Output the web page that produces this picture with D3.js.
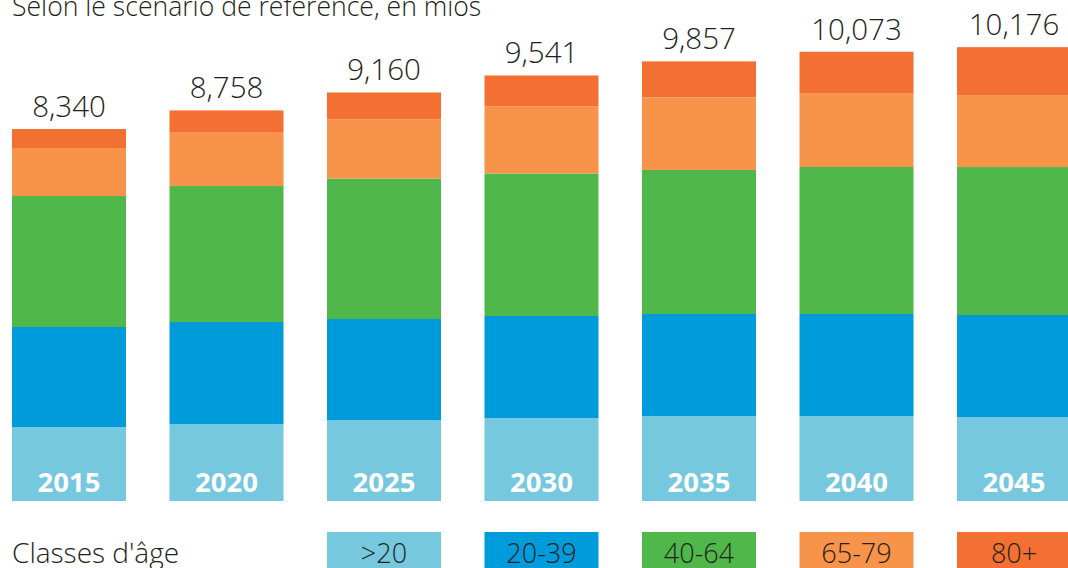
<!DOCTYPE html>
<html>
<head>
<meta charset="utf-8">
<script src="https://cdn.jsdelivr.net/npm/d3@7"></script>
<style>
  html, body { margin: 0; padding: 0; background: #fff; }
  svg { display: block; }
  text { font-family: "Open Sans", "Noto Sans", sans-serif; }
</style>
</head>
<body>
<svg id="chart" width="1068" height="568"></svg>
<script>
// ---- Data (thousands of people) ----
const years = ["2015", "2020", "2025", "2030", "2035", "2040", "2045"];
const ageClasses = [">20", "20-39", "40-64", "65-79", "80+"];
const ageColors = ["#75c8de", "#009bdb", "#50b84a", "#f7944a", "#f37032"];
const under20 = [1659, 1726, 1816, 1861, 1906, 1906, 1883];
const age20to39 = [2242, 2287, 2265, 2287, 2287, 2287, 2287];
const age40to64 = [2937, 3049, 3151, 3196, 3230, 3296, 3318];
const age65to79 = [1076, 1196, 1323, 1502, 1627, 1659, 1614];
const age80plus = [426, 500, 605, 695, 807, 925, 1074];
const totals = [8340, 8758, 9160, 9541, 9857, 10073, 10176];
const totalLabels = ["8,340", "8,758", "9,160", "9,541", "9,857", "10,073", "10,176"];
const titleText = "Selon le scénario de référence, en mios";
const legendTitle = "Classes d'âge";

const series = [under20, age20to39, age40to64, age65to79, age80plus];
const rows = years.map((y, i) => {
  const r = { year: y };
  ageClasses.forEach((k, j) => r[k] = series[j][i]);
  return r;
});

const svg = d3.select("#chart");
const textColor = "#231f20";

const x = d3.scaleBand().domain(years).range([12, 1071]).paddingInner(0.2762).paddingOuter(0);
const y = d3.scaleLinear().domain([0, 10000]).range([501, 55]);

const stack = d3.stack().keys(ageClasses);
const stacked = stack(rows);

svg.append("g").selectAll("g")
  .data(stacked)
  .join("g")
  .attr("fill", (d, i) => ageColors[i])
  .selectAll("rect")
  .data(d => d)
  .join("rect")
  .attr("x", d => x(d.data.year))
  .attr("width", x.bandwidth())
  .attr("y", d => y(d[1]))
  .attr("height", d => y(d[0]) - y(d[1]));

// total labels
svg.append("g").selectAll("text")
  .data(years)
  .join("text")
  .attr("x", d => x(d) + x.bandwidth() / 2)
  .attr("y", (d, i) => y(totals[i]) - 12)
  .attr("text-anchor", "middle")
  .attr("font-size", 29.5)
  .attr("font-weight", 300)
  .attr("fill", textColor)
  .text((d, i) => totalLabels[i]);

// year labels
svg.append("g").selectAll("text")
  .data(years)
  .join("text")
  .attr("x", d => x(d) + x.bandwidth() / 2)
  .attr("y", y(0) - 9)
  .attr("text-anchor", "middle")
  .attr("font-size", 27.5)
  .attr("font-weight", 700)
  .attr("fill", "#fff")
  .text(d => d);

// title
svg.append("text")
  .attr("x", 12)
  .attr("y", 16)
  .attr("font-size", 26.6)
  .attr("font-weight", 300)
  .attr("fill", textColor)
  .text(titleText);

// legend
const legendYears = years.slice(2);
const lg = svg.append("g");
lg.append("text")
  .attr("x", 12)
  .attr("y", 563)
  .attr("font-size", 28)
  .attr("font-weight", 300)
  .attr("fill", textColor)
  .text(legendTitle);

const items = lg.selectAll("g.item")
  .data(ageClasses)
  .join("g")
  .attr("class", "item");
items.append("rect")
  .attr("x", (d, i) => x(legendYears[i]))
  .attr("y", 532)
  .attr("width", x.bandwidth())
  .attr("height", 40)
  .attr("fill", (d, i) => ageColors[i]);
items.append("text")
  .attr("x", (d, i) => x(legendYears[i]) + x.bandwidth() / 2)
  .attr("y", 563)
  .attr("text-anchor", "middle")
  .attr("font-size", 27)
  .attr("font-weight", 300)
  .attr("fill", textColor)
  .text(d => d);
</script>
</body>
</html>
